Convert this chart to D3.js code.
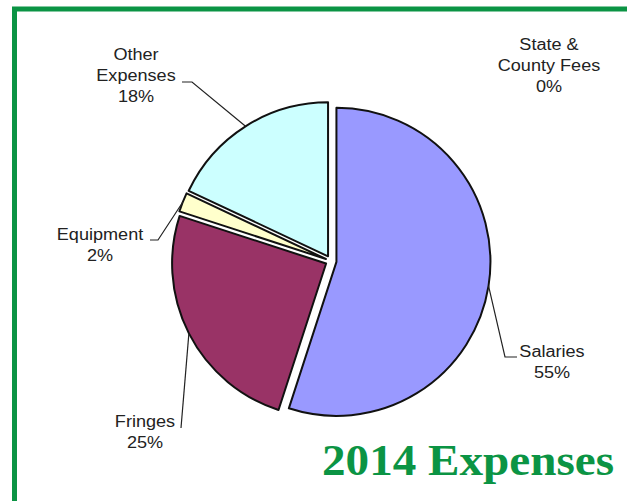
<!DOCTYPE html>
<html>
<head>
<meta charset="utf-8">
<script src="https://cdn.jsdelivr.net/npm/d3@7"></script>
<style>
  body { margin: 0; background: #fff; }
  .lbl { font-family: "Liberation Sans", Arial, sans-serif; font-size: 16px; fill: #222; }
</style>
</head>
<body>
<div id="chart"></div>
<script>
var svgWidth = 627;
var svgHeight = 501;

// chart data
var categories = ["Salaries", "Fringes", "Equipment", "Other Expenses", "State & County Fees"];
var categoryLines = [["Salaries"], ["Fringes"], ["Equipment"], ["Other", "Expenses"], ["State &", "County Fees"]];
var values = [55, 25, 2, 18, 0];
var colors = ["#9999ff", "#993366", "#ffffcc", "#ccffff", "#e0e0e0"];
var title = "2014 Expenses";

// layout of the labels (text centre, first baseline, leader elbows)
var labelLayout = [
  { x: 552, y: 357, leader: [[505, 357], [517, 357]] },
  { x: 145, y: 427, leader: [[181, 428]] },
  { x: 100, y: 240, leader: [[158, 240], [150, 240]] },
  { x: 136, y: 60, leader: [[192, 82], [182, 82]] },
  { x: 549, y: 50, leader: null }
];

var cx = 331, cy = 261, radius = 154, explode = 5.5;
var lineGap = 21;

var svg = d3.select("#chart")
  .append("svg")
  .attr("width", svgWidth)
  .attr("height", svgHeight);

// green frame
svg.append("rect")
  .attr("x", 14.5)
  .attr("y", 9)
  .attr("width", 700)
  .attr("height", 600)
  .attr("fill", "none")
  .attr("stroke", "#0b9444")
  .attr("stroke-width", 5);

var pie = d3.pie().sort(null).value(d => d.value);
var data = categories.map(function (c, i) {
  return { name: c, lines: categoryLines[i], value: values[i], color: colors[i], layout: labelLayout[i] };
});
var arcs = pie(data);

var arc = d3.arc().innerRadius(0).outerRadius(radius);

function offset(d, dist) {
  var a = (d.startAngle + d.endAngle) / 2;
  return [Math.sin(a) * dist, -Math.cos(a) * dist];
}

var pieGroup = svg.append("g")
  .attr("transform", `translate(${cx}, ${cy})`);

pieGroup.selectAll("path")
  .data(arcs.filter(d => d.data.value > 0))
  .enter()
  .append("path")
  .attr("transform", function (d) {
    var o = offset(d, explode);
    return `translate(${o[0]}, ${o[1]})`;
  })
  .attr("d", arc)
  .attr("fill", d => d.data.color)
  .attr("stroke", "#111")
  .attr("stroke-width", 2)
  .attr("stroke-linejoin", "round");

// leader lines
arcs.forEach(function (d) {
  var lay = d.data.layout;
  if (!lay.leader || d.data.value === 0) return;
  var o = offset(d, explode + radius);
  var pts = [[cx + o[0], cy + o[1]]].concat(lay.leader);
  svg.append("path")
    .attr("d", d3.line()(pts))
    .attr("fill", "none")
    .attr("stroke", "#222")
    .attr("stroke-width", 1.2);
});

// labels
arcs.forEach(function (d) {
  var lay = d.data.layout;
  var lines = d.data.lines.concat([d.data.value + "%"]);
  lines.forEach(function (t, j) {
    svg.append("text")
      .attr("class", "lbl")
      .attr("text-anchor", "middle")
      .attr("transform", `translate(${lay.x}, ${lay.y + j * lineGap}) scale(1.13, 1)`)
      .text(t);
  });
});

// title
svg.append("text")
  .attr("x", 322)
  .attr("y", 475)
  .attr("textLength", 292)
  .attr("lengthAdjust", "spacingAndGlyphs")
  .style("font-family", "'Liberation Serif', 'DejaVu Serif', serif")
  .style("font-weight", "bold")
  .style("font-size", "44px")
  .style("fill", "#0b9444")
  .text(title);
</script>
</body>
</html>
